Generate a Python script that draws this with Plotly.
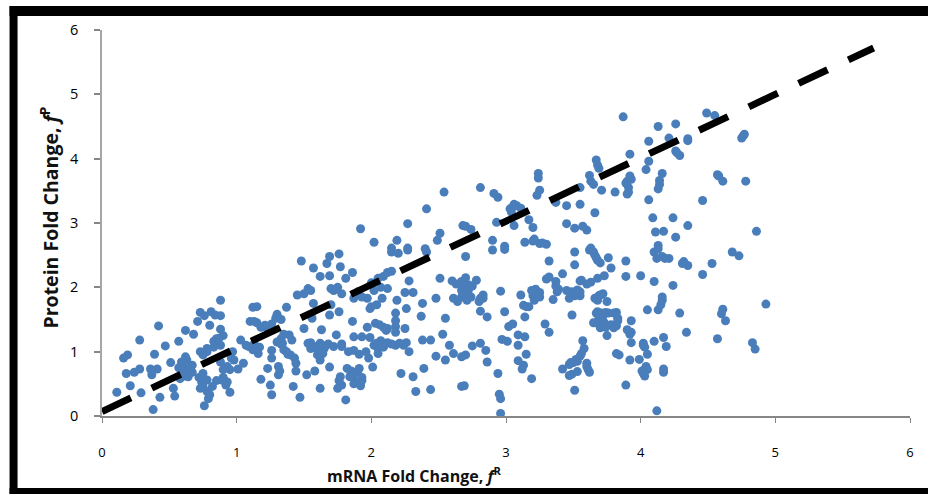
import plotly.graph_objects as go

# Scatter values (mRNA fold change, protein fold change)
points = """
0.11,0.37 0.38,0.10 0.43,0.29 0.29,0.36 0.21,0.47 0.18,0.66 0.24,0.68 0.28,0.73 0.16,0.90 0.19,0.95
0.28,1.18 0.39,0.96 0.47,1.09 0.42,1.40 0.57,1.16 0.51,0.83 0.36,0.73 0.41,0.73 0.37,0.64 0.53,0.43
0.54,0.31 0.62,1.33 0.68,1.27 0.71,1.47 0.73,1.61 0.76,1.56 0.81,1.62 0.84,1.57 0.88,1.56 0.88,1.80
0.80,1.41 0.88,1.35 0.87,1.21 0.83,1.16 0.78,1.05 0.75,0.95 0.62,0.92 0.59,0.84 0.67,0.79 0.62,0.74
0.59,0.64 0.64,0.61 0.75,0.66 0.74,0.53 0.75,0.46 0.82,0.46 0.79,0.27 0.76,0.16 0.89,0.56 0.92,0.48
0.95,0.37 0.88,0.84 0.93,0.77 0.98,0.87 1.01,0.73 1.05,0.82 0.97,1.00 1.03,1.18 1.09,1.08 1.16,0.97
1.10,1.47 1.15,1.70 1.12,1.69 1.15,1.45 1.21,1.41 1.30,1.55 1.29,1.52 1.37,1.69 1.39,1.26 1.41,1.18
1.34,1.13 1.35,1.03 1.26,1.02 1.40,0.95 1.44,0.82 1.44,0.70 1.23,0.74 1.26,0.90 1.31,0.77 1.31,0.64
1.18,0.57 1.25,0.48 1.26,0.33 1.42,0.46 1.47,0.29 1.52,0.64 1.58,0.70 1.62,0.43 1.69,0.76 1.77,0.61
1.75,0.43 1.81,0.25 1.82,0.74 1.91,0.74 1.84,0.61 1.89,0.53 1.92,0.47 2.01,0.76 1.98,0.90 1.91,0.96
1.83,1.00 1.62,0.87 1.60,1.03 1.53,1.13 1.72,1.08 1.66,1.09 1.87,1.23 1.74,1.26 1.93,1.23 1.99,1.22
2.04,1.13 2.09,1.13 2.05,0.97 2.18,1.10 2.24,1.10 2.28,1.00 2.38,1.18 2.44,1.18 2.22,0.66 2.31,0.61
2.39,0.74 2.33,0.38 2.44,0.41 2.67,0.46 1.50,1.36 1.56,1.52 1.63,1.34 1.69,1.57 1.76,1.62 1.57,1.75
1.70,1.73 1.45,1.88 1.53,1.98 1.48,2.41 1.57,2.30 1.62,2.17 1.69,2.18 1.67,2.37 1.69,2.48 1.76,2.52
1.77,2.32 1.86,2.23 1.81,2.14 1.70,1.98 1.86,1.47 1.87,1.83 1.97,1.83 1.99,1.67 2.04,1.73 1.97,1.38
2.03,1.44 2.12,1.36 2.18,1.60 2.18,1.39 2.25,1.36 2.26,1.67 2.38,1.75 2.37,1.55 2.19,1.80 2.25,1.92
2.31,1.92 2.08,1.83 2.12,1.98 2.00,2.07 2.12,2.23 2.05,2.14 2.28,2.10 2.48,1.83 2.51,2.14 2.60,2.10
2.67,2.09 2.61,1.83 2.67,1.85 2.55,1.52 2.53,1.27 2.58,1.10 2.61,0.97 2.67,0.92 2.48,0.93 2.55,0.87
2.15,2.55 2.20,2.53 2.27,2.58 2.41,2.55 1.92,2.91 2.02,2.70 2.19,2.73 2.27,2.99 2.41,3.22 2.54,3.48
2.68,2.96 2.51,2.84 2.49,2.73 2.15,2.61 2.27,2.61 2.40,2.60 2.70,2.48 2.90,2.58 2.99,2.59 3.32,2.41
3.51,2.55 3.51,2.35 3.42,2.21 3.65,2.55 3.68,2.42 3.76,2.46 3.78,2.30 3.89,2.41 3.89,2.17 4.00,2.18
4.10,2.09 4.10,2.55 4.18,2.45 4.21,2.45 4.31,2.37 4.35,2.34 4.53,2.37 4.46,2.20 4.68,2.55 4.73,2.49
4.24,2.03 4.16,1.80 4.15,1.73 4.05,1.65 4.13,1.65 4.29,1.60 4.93,1.74 4.61,1.66 4.60,1.59 4.63,1.48
4.34,1.30 4.17,1.22 4.10,1.16 4.19,1.08 4.02,1.10 3.93,1.14 4.57,1.20 4.83,1.14 4.85,1.04 4.05,0.96
3.92,0.87 3.99,0.88 3.82,0.97 3.84,0.95 4.04,0.77 4.02,0.66 4.17,0.73 3.89,0.48 4.12,0.08 3.93,1.48
3.90,1.34 3.92,1.27 3.75,1.25 3.80,1.37 3.83,1.48 3.82,1.61 3.74,1.61 3.67,1.60 3.68,1.44 3.72,1.39
3.75,1.78 3.69,1.87 3.66,1.83 3.55,1.87 3.53,1.96 3.49,1.93 3.47,1.83 3.39,1.97 3.37,2.09 3.32,2.16
3.56,2.11 3.63,2.08 3.68,2.14 3.73,2.18 3.35,1.81 3.25,1.92 3.19,1.95 3.11,1.88 3.21,1.80 3.15,1.70
3.14,1.54 2.99,1.62 2.96,1.94 2.83,1.88 2.81,1.83 2.81,1.63 2.86,1.54 2.78,2.11 2.72,2.04 2.72,1.85
3.49,1.57 3.29,1.43 3.32,1.30 3.05,1.43 3.02,1.39 3.09,1.26 3.14,1.23 3.09,1.10 2.97,1.19 3.01,1.16
2.81,1.13 2.75,1.09 2.85,1.02 2.86,0.84 2.70,0.95 2.94,0.66 2.95,0.34 2.96,0.27 2.96,0.04 3.09,0.86
3.15,0.96 3.13,0.79 3.12,0.73 3.19,0.58 3.42,0.73 3.49,0.65 3.53,0.69 3.51,0.40 3.61,0.72 3.60,0.82
3.48,0.83 3.52,0.88 3.56,0.97 3.58,1.05 3.57,1.17 2.69,0.47 3.87,4.65 4.13,4.50 4.26,4.54 4.49,4.71
4.55,4.67 4.76,4.35 4.06,4.27 4.21,4.32 4.35,4.31 4.27,4.09 3.92,4.07 3.67,3.98 3.69,3.85 4.06,3.96
4.04,3.83 3.62,3.74 3.63,3.65 3.71,3.51 3.92,3.73 3.89,3.62 3.91,3.48 3.81,3.48 4.16,3.77 4.14,3.66
4.13,3.53 3.24,3.77 3.24,3.70 2.81,3.55 2.91,3.46 2.94,3.40 3.25,3.51 3.23,3.43 3.55,3.55 3.37,3.32
3.45,3.27 3.55,3.29 3.66,3.16 4.06,3.36 4.46,3.35 4.57,3.75 4.61,3.65 4.78,3.65 3.06,3.29 3.03,3.22
3.11,3.23 2.93,3.01 3.06,2.96 3.17,3.05 3.20,2.93 3.45,2.99 3.51,2.92 3.57,2.95 3.60,2.89 4.09,3.08
4.24,3.08 4.35,2.96 4.11,2.86 4.17,2.87 4.26,2.78 4.86,2.87 2.90,2.73 2.99,2.64 3.14,2.70 3.21,2.75
3.27,2.69 2.70,2.95 2.74,2.90 3.63,2.61 4.13,2.65
1.55,1.14 1.58,1.08 1.62,1.13 1.65,1.05 1.68,1.12 1.78,1.08 1.55,1.05 1.60,0.95 1.64,0.97 1.78,1.12
2.02,1.10 2.07,1.17 2.09,1.07 2.12,1.14 2.15,1.12 2.21,1.13 2.26,1.14 2.05,1.05 1.87,1.02 1.96,1.00
0.57,0.75 0.60,0.80 0.63,0.87 0.65,0.70 0.60,0.70 0.62,0.62 0.67,0.68 0.58,0.58
0.72,0.60 0.78,0.56 0.73,0.43 0.78,0.38 0.80,0.33 0.85,0.55 0.83,1.07 0.88,1.10 0.78,1.00 0.73,1.00
0.85,1.20 0.90,1.25 0.90,0.60 0.93,0.53 0.95,0.72 0.90,0.72 0.96,0.90
1.07,1.10 1.12,1.03 1.13,1.12 1.17,1.07 1.13,1.47 1.18,1.38 1.24,1.32 1.33,1.20 1.35,1.27 1.30,1.15
1.33,1.12 1.37,1.00 1.43,0.90 1.38,0.96 1.32,0.70 1.30,1.58 1.33,1.50 1.26,1.43 1.22,1.38
1.72,1.95 1.78,1.90 1.75,2.00 1.73,1.97 1.55,1.95 1.50,1.90 1.90,1.93 1.93,1.85 2.02,1.95 2.07,2.00
2.09,2.17 2.15,2.25 2.00,1.70 2.06,1.42 2.09,1.38 2.11,1.33 2.18,1.30 2.18,1.48 1.88,1.88
1.90,0.70 1.87,0.64 1.93,0.60 1.87,0.50 1.85,0.68 1.76,0.55 1.78,0.48 1.93,0.55 1.85,0.70
2.70,2.15 2.68,2.00 2.72,1.95 2.75,2.02 2.70,1.90 2.67,1.95 2.74,1.85 2.71,1.80 2.64,1.78 2.63,2.05
2.80,1.78 2.83,1.83 3.20,1.87 3.22,1.97 3.25,1.85 3.17,1.70 3.13,1.72 3.37,2.02 3.38,1.93 3.50,1.90
3.51,1.87 3.55,1.93 3.45,1.95 3.70,1.88 3.72,1.90 3.68,1.80 3.30,2.13
3.68,1.62 3.71,1.60 3.65,1.45 3.69,1.52 3.72,1.55 3.76,1.60 3.80,1.60 3.83,1.52 3.82,1.40 3.78,1.42
3.74,1.38 3.70,1.37 3.73,1.45 3.53,0.85 3.55,0.93 3.50,0.83 3.47,0.80 3.60,0.77 3.62,0.68 3.47,0.63
4.02,1.13 4.03,1.07 4.03,0.72 4.01,0.70 4.05,0.72 4.03,0.62 4.16,1.85 4.17,0.68 3.93,1.30
3.55,2.10 3.66,2.50 3.70,2.38 3.62,2.58 3.67,2.46 3.60,2.05 3.20,2.72 3.25,2.68 3.30,2.67
3.05,3.25 3.08,3.27 3.04,3.17 4.12,2.45 4.13,2.60 4.16,2.48 4.32,2.40 3.65,3.60 3.90,3.65 3.93,3.68
3.91,3.55 3.90,3.45 4.26,4.12 4.29,4.05 4.77,4.38 4.75,4.32 4.35,4.28 4.58,3.73 4.14,3.60 3.68,3.90
""".split()
mrna = [float(p.split(",")[0]) for p in points]
protein = [float(p.split(",")[1]) for p in points]

trend_x = [0, 5.73]
trend_y = [0.07, 5.72]
tick_vals = [0, 1, 2, 3, 4, 5, 6]

W, H = 928, 494
L, R, T, B = 101.5, 18, 30, 78
PW, PH = W - L - R, H - T - B

def px(v):
    return (v - L) / PW

def py(v):
    return (H - B - v) / PH

def band(x0, y0, x1, y1):
    return dict(type="rect", xref="paper", yref="paper", layer="above",
                x0=px(x0), x1=px(x1), y0=py(y0), y1=py(y1),
                fillcolor="black", line_width=0)

fig = go.Figure()
fig.add_trace(go.Scatter(x=mrna, y=protein, mode="markers", cliponaxis=False,
                         marker=dict(color="#4a7ebb", size=9, line_width=0)))
fig.add_trace(go.Scatter(x=trend_x, y=trend_y, mode="lines", cliponaxis=False,
                         line=dict(color="black", width=7, dash="32px,23px")))

axis = dict(range=[0, 6], tickvals=tick_vals, showgrid=False, zeroline=False,
            showline=True, ticks="outside", tickcolor="#868686")

fig.update_layout(
    width=W, height=H, showlegend=False,
    margin=dict(l=L, r=R, t=T, b=B, autoexpand=False),
    paper_bgcolor="white", plot_bgcolor="white",
    xaxis=dict(axis, ticklabelstandoff=18, linecolor="#868686", linewidth=2, tickwidth=1, ticklen=5,
               tickfont=dict(family="Open Sans", size=13, color="black")),
    yaxis=dict(axis, ticklabelstandoff=13, linecolor="#a6a6a6", linewidth=1.5, tickwidth=2, ticklen=6,
               tickfont=dict(family="Open Sans", size=14.5, color="black")),
    shapes=[band(9, 6, 928, 16), band(9, 6, 17, 494), band(9, 488, 928, 494)],
    annotations=[
        dict(text="<b>mRNA Fold Change, <i>f</i><sup>R</sup></b>", xref="paper", yref="paper",
             x=px(414), y=py(475), showarrow=False, xanchor="center", yanchor="middle",
             font=dict(family="Open Sans", size=16, color="#111111")),
        dict(text="<b>Protein Fold Change, <i>f</i><sup>P</sup></b>", xref="paper", yref="paper",
             x=px(49), y=py(218), showarrow=False, textangle=-90, xanchor="center", yanchor="middle",
             font=dict(family="Open Sans", size=19.5, color="#111111")),
    ],
)

fig.write_html("out.html", config={"displayModeBar": False},
               post_script="document.body.style.margin='0';")
